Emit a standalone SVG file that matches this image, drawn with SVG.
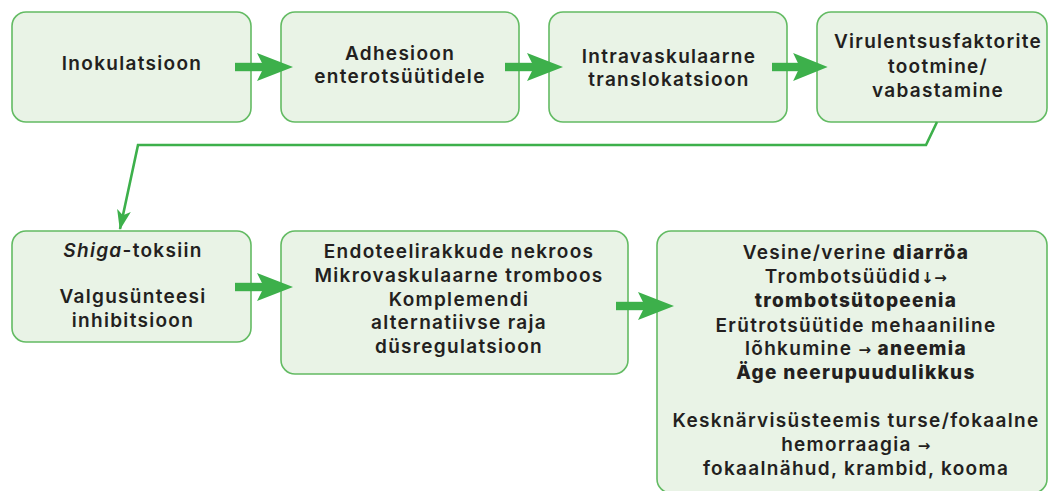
<svg xmlns="http://www.w3.org/2000/svg" width="1048" height="491" viewBox="0 0 1048 491">
  <defs>
    <style>
      .box { fill: #e9f3e6; stroke: #63bb63; stroke-width: 1.6; }
      .t { font-family: "Inter", "DejaVu Sans", sans-serif; font-weight: 600; font-size: 19px; letter-spacing: 1.3px; fill: #231f20; text-anchor: middle; }
      .b { font-weight: 800; }
      .i { font-style: italic; }
      .sym { font-family: "DejaVu Sans", sans-serif; font-size: 15px; font-weight: 700; fill: #231f20; letter-spacing: 0.5px; }
      .arrow { fill: #3db04b; }
      .conn { fill: none; stroke: #3db04b; stroke-width: 2.6; stroke-linejoin: miter; }
    </style>
    <g id="fatArrow">
      <rect x="0" y="-4.2" width="30" height="8.4"/>
      <path d="M22,-14 L58,0 L22,14 L29,0 Z"/>
    </g>
    <marker id="thinHead" viewBox="0 0 20 14" refX="19" refY="7" markerWidth="20" markerHeight="14" markerUnits="userSpaceOnUse" orient="auto">
      <path d="M0,0 L20,7 L0,14 L5,7 Z" fill="#3db04b"/>
    </marker>
  </defs>

  <g id="n1">
    <rect class="box" x="12" y="12" width="239" height="110" rx="14"/>
    <text class="t" x="132" y="70">Inokulatsioon</text>
  </g>
  <g id="n2">
    <rect class="box" x="281" y="12" width="238" height="110" rx="14"/>
    <text class="t"><tspan x="400" y="60">Adhesioon</tspan><tspan x="400" y="83">enterotsüütidele</tspan></text>
  </g>
  <g id="n3">
    <rect class="box" x="549" y="12" width="238" height="110" rx="14"/>
    <text class="t"><tspan x="669" y="63">Intravaskulaarne</tspan><tspan x="669" y="86">translokatsioon</tspan></text>
  </g>
  <g id="n4">
    <rect class="box" x="817" y="12" width="230" height="110" rx="14"/>
    <text class="t"><tspan x="938" y="48">Virulentsusfaktorite</tspan><tspan x="938" y="73">tootmine/</tspan><tspan x="938" y="97">vabastamine</tspan></text>
  </g>
  <g id="n5">
    <rect class="box" x="12" y="231" width="239" height="111" rx="14"/>
    <text class="t"><tspan x="133" y="257"><tspan class="i">Shiga</tspan>-toksiin</tspan><tspan x="133" y="303">Valgusünteesi</tspan><tspan x="133" y="327">inhibitsioon</tspan></text>
  </g>
  <g id="n6">
    <rect class="box" x="281" y="231" width="347" height="143" rx="14"/>
    <text class="t"><tspan x="459" y="258">Endoteelirakkude nekroos</tspan><tspan x="459" y="282">Mikrovaskulaarne tromboos</tspan><tspan x="459" y="306">Komplemendi</tspan><tspan x="459" y="329">alternatiivse raja</tspan><tspan x="459" y="353">düsregulatsioon</tspan></text>
  </g>
  <g id="n7">
    <rect class="box" x="657" y="231" width="390" height="262" rx="14"/>
    <text class="t"><tspan x="856" y="259">Vesine/verine <tspan class="b">diarröa</tspan></tspan><tspan x="856" y="283">Trombotsüüdid<tspan class="sym">↓→</tspan></tspan><tspan class="b" x="856" y="307">trombotsütopeenia</tspan><tspan x="856" y="332">Erütrotsüütide mehaaniline</tspan><tspan x="856" y="355">lõhkumine <tspan class="sym">→</tspan> <tspan class="b">aneemia</tspan></tspan><tspan class="b" x="856" y="379">Äge neerupuudulikkus</tspan><tspan x="856" y="427">Kesknärvisüsteemis turse/fokaalne</tspan><tspan x="856" y="451">hemorraagia <tspan class="sym">→</tspan></tspan><tspan x="856" y="475">fokaalnähud, krambid, kooma</tspan></text>
  </g>

  <g id="connectors">
    <use href="#fatArrow" class="arrow" transform="translate(235,67)"/>
    <use href="#fatArrow" class="arrow" transform="translate(505,67)"/>
    <use href="#fatArrow" class="arrow" transform="translate(772,67) scale(0.96,1)"/>
    <use href="#fatArrow" class="arrow" transform="translate(235,287)"/>
    <use href="#fatArrow" class="arrow" transform="translate(616,306)"/>
    <polyline class="conn" points="937,122 926,145 138,145 120,229" marker-end="url(#thinHead)"/>
  </g>
</svg>
